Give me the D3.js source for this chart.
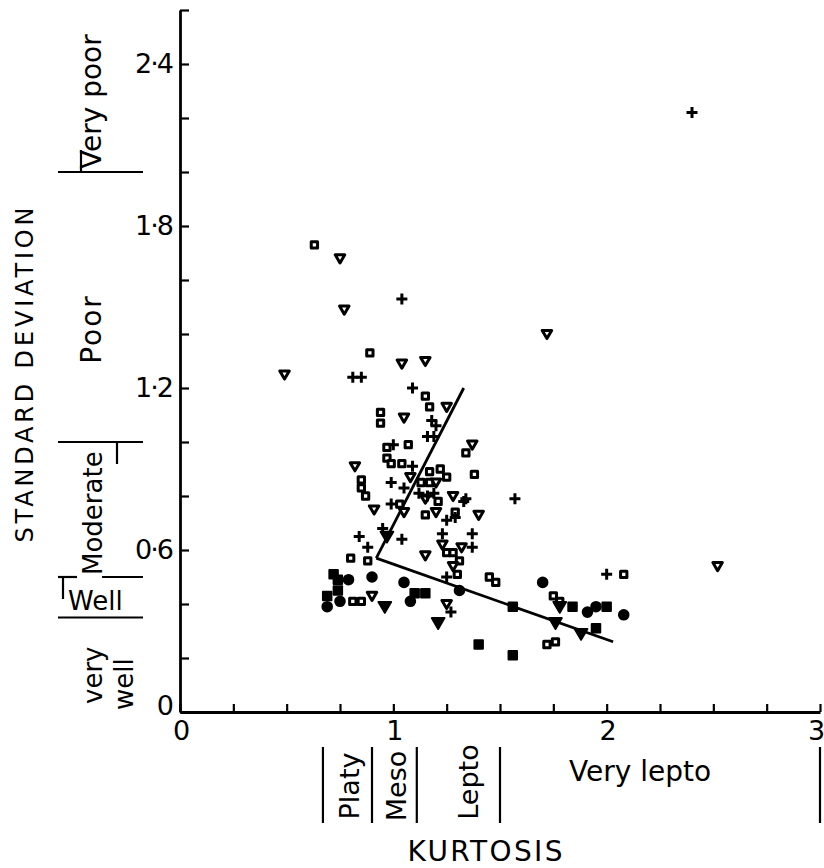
<!DOCTYPE html>
<html>
<head>
<meta charset="utf-8">
<script src="https://cdn.jsdelivr.net/npm/d3@7"></script>
<style>
  body { margin: 0; background: #fff; }
  svg text { font-family: "DejaVu Sans", "Liberation Sans", sans-serif; fill: #000; }
</style>
</head>
<body>
<div id="chart"></div>
<script>
// kurtosis (x), standard deviation (y)
const openSquares = [
  [0.63,1.73],[0.89,1.33],[1.15,1.17],[1.17,1.13],[0.94,1.11],[0.94,1.07],[1.07,0.99],
  [0.97,0.98],[0.97,0.94],[0.99,0.92],[1.04,0.92],[0.85,0.86],[0.85,0.83],[0.87,0.80],
  [1.17,0.89],[1.22,0.90],[1.25,0.87],[1.13,0.85],[1.17,0.85],[1.38,0.88],[1.34,0.96],
  [1.03,0.77],[1.21,0.78],[1.15,0.73],[1.29,0.74],[0.80,0.57],[0.88,0.56],[1.25,0.59],
  [1.28,0.59],[1.31,0.56],[1.30,0.51],[1.45,0.50],[1.48,0.48],[0.81,0.41],[0.85,0.41],
  [1.75,0.43],[1.78,0.41],[2.08,0.51],[1.72,0.25],[1.76,0.26]
]
const openTriangles = [
  [0.75,1.68],[0.77,1.49],[1.04,1.29],[1.15,1.30],[0.49,1.25],[1.72,1.40],[2.52,0.54],
  [1.25,1.13],[1.05,1.09],[1.37,0.99],[0.82,0.91],[1.08,0.87],[1.20,0.85],[1.28,0.80],
  [0.91,0.75],[1.05,0.74],[1.15,0.79],[1.20,0.74],[1.40,0.73],[1.23,0.62],[1.32,0.61],
  [1.15,0.58],[1.28,0.54],[0.90,0.43],[1.25,0.40]
]
const pluses = [
  [2.40,2.22],[1.04,1.53],[0.81,1.24],[0.85,1.24],[1.09,1.20],[1.18,1.08],[1.20,1.06],
  [1.16,1.02],[1.19,1.02],[1.00,0.99],[1.09,0.91],[0.99,0.85],[1.05,0.83],[1.12,0.81],
  [1.16,0.80],[1.19,0.81],[1.34,0.79],[1.57,0.79],[0.99,0.77],[1.33,0.78],[1.25,0.71],
  [1.29,0.72],[0.95,0.68],[1.04,0.64],[0.84,0.65],[0.88,0.61],[1.23,0.66],[1.37,0.66],
  [1.37,0.61],[1.25,0.50],[2.00,0.51],[1.27,0.37]
]
const filledCircles = [
  [1.31,0.45],[0.79,0.49],[0.90,0.50],[0.69,0.39],[0.75,0.41],[1.05,0.48],[1.08,0.41],
  [1.70,0.48],[1.91,0.37],[2.08,0.36],[1.95,0.39]
]
const filledSquares = [
  [0.72,0.51],[0.74,0.49],[0.74,0.45],[0.69,0.43],[1.10,0.44],[1.15,0.44],[1.40,0.25],
  [1.56,0.39],[1.84,0.39],[2.00,0.39],[1.95,0.31],[1.56,0.21]
]
const filledTriangles = [
  [0.97,0.65],[0.96,0.39],[1.21,0.33],[1.78,0.39],[1.76,0.33],[1.88,0.29]
]

// the two fitted lines, both from the kink
const trendUp = [[0.92,0.57],[1.33,1.20]]
const trendDown = [[0.92,0.57],[2.03,0.26]]

const xTicks = [0,0.25,0.5,0.75,1,1.25,1.5,1.75,2,2.25,2.5,2.75,3]
const xTickLabels = ["0","","","","1","","","","2","","","","3"]
const yTicks = [0,0.2,0.4,0.6,0.8,1.0,1.2,1.4,1.6,1.8,2.0,2.2,2.4,2.6]
const yTickLabels = ["0","","","0·6","","","1·2","","","1·8","","","2·4",""]

// Folk & Ward class limits
const sortingLimits = [2.0, 1.0, 0.5, 0.35]
const kurtLimits = [0.67, 0.90, 1.11, 1.50, 3.0]

const width = 824, height = 868

let svg = d3.select("#chart").append("svg")
  .attr("width", width)
  .attr("height", height)

let x = d3.scaleLinear().domain([0, 3]).range([180, 820])
let y = d3.scaleLinear().domain([0, 2.6]).range([712, 10])

// axes, ticks pointing into the plot
let yAxis = svg.append("g")
  .attr("transform", "translate(180,0)")
  .call(d3.axisLeft(y).tickValues(yTicks).tickSize(-9).tickSizeOuter(0)
    .tickPadding(8).tickFormat((d, i) => yTickLabels[i]))

let xAxis = svg.append("g")
  .attr("transform", "translate(0,712)")
  .call(d3.axisBottom(x).tickValues(xTicks).tickSize(-8).tickSizeOuter(0)
    .tickPadding(9).tickFormat((d, i) => xTickLabels[i]))

for (let ax of [xAxis, yAxis]) {
  ax.select(".domain").attr("stroke-width", 2.8)
  ax.selectAll(".tick line").attr("stroke-width", 2.2)
  ax.selectAll(".tick text")
    .attr("font-family", "DejaVu Sans, sans-serif")
    .style("font-size", "27px")
    .attr("letter-spacing", "-2px")
}
yAxis.select(".tick text").attr("dy", "0.1em")
// the "3" sits on the page edge, pull it in a little
xAxis.selectAll(".tick text").filter((d, i) => i === xTicks.length - 1).attr("dx", "-5")

// fitted lines
let line = d3.line().x(d => x(d[0])).y(d => y(d[1]))
for (let seg of [trendUp, trendDown]) {
  svg.append("path").attr("d", line(seg))
    .attr("fill", "none").attr("stroke", "#000").attr("stroke-width", 2.8)
}

// marker shapes
const triDown = {
  draw(ctx, size) {
    let s = Math.sqrt(size)
    ctx.moveTo(-s / 2, -s * 0.38)
    ctx.lineTo(s / 2, -s * 0.38)
    ctx.lineTo(0, s * 0.48)
    ctx.closePath()
  }
}
const plus = {
  draw(ctx, size) {
    let r = Math.sqrt(size) / 2
    ctx.moveTo(-r, 0); ctx.lineTo(r, 0)
    ctx.moveTo(0, -r); ctx.lineTo(0, r)
  }
}

let series = [
  {data: openSquares, type: d3.symbolSquare, size: 40, fill: "#fff", sw: 3},
  {data: openTriangles, type: triDown, size: 90, fill: "#fff", sw: 3},
  {data: pluses, type: plus, size: 121, fill: "none", sw: 3},
  {data: filledCircles, type: d3.symbolCircle, size: 72, fill: "#000", sw: 2},
  {data: filledSquares, type: d3.symbolSquare, size: 72, fill: "#000", sw: 2},
  {data: filledTriangles, type: triDown, size: 160, fill: "#000", sw: 2}
]

for (let s of series) {
  svg.append("g").selectAll("path")
    .data(s.data)
    .join("path")
    .attr("transform", d => "translate(" + x(d[0]) + "," + y(d[1]) + ")")
    .attr("d", d3.symbol().type(s.type).size(s.size))
    .attr("fill", s.fill)
    .attr("stroke", "#000")
    .attr("stroke-width", s.sw)
    .attr("stroke-linejoin", "round")
}

// sorting classes on the left
let left = svg.append("g").attr("stroke", "#000").attr("stroke-width", 2.2)
for (let b of sortingLimits) {
  if (b === 0.5) {
    left.append("line").attr("x1", 58).attr("x2", 77).attr("y1", y(b)).attr("y2", y(b))
    left.append("line").attr("x1", 102).attr("x2", 143).attr("y1", y(b)).attr("y2", y(b))
  } else {
    left.append("line").attr("x1", 58).attr("x2", 143).attr("y1", y(b)).attr("y2", y(b))
  }
}
left.append("line").attr("x1", 81).attr("x2", 81).attr("y1", y(2.0) - 22).attr("y2", y(2.0))
left.append("line").attr("x1", 117).attr("x2", 117).attr("y1", y(1.0)).attr("y2", y(1.0) + 22)
left.append("line").attr("x1", 63).attr("x2", 63).attr("y1", y(0.5)).attr("y2", y(0.5) + 22)

function vtext(txt, bx, cy, size, anchor) {
  return svg.append("text")
    .attr("transform", "translate(" + bx + "," + cy + ") rotate(-90)")
    .attr("text-anchor", anchor || "middle")
    .style("font-size", size + "px")
    .text(txt)
}

vtext("STANDARD DEVIATION", 33, 375, 24).attr("textLength", 335).attr("lengthAdjust", "spacing")
vtext("Very poor", 101, y(2.0) - 3, 28, "start")
vtext("Poor", 101, 329, 28).attr("letter-spacing", "2px")
vtext("Moderate", 102, y(0.5) - 2, 26, "start")
vtext("very", 102, 704, 26, "start")
vtext("well", 133, 710, 26, "start")
svg.append("text").attr("x", 68).attr("y", 610).style("font-size", "26px").text("Well")

// kurtosis classes under the axis
let bottom = svg.append("g").attr("stroke", "#000").attr("stroke-width", 2.2)
for (let b of kurtLimits) {
  bottom.append("line").attr("x1", x(b)).attr("x2", x(b)).attr("y1", 747).attr("y2", 823)
}
vtext("Platy", 359, 786, 27)
vtext("Meso", 406, 786, 27)
vtext("Lepto", 478, 782, 27)
svg.append("text").attr("x", 640).attr("y", 781).attr("text-anchor", "middle")
  .style("font-size", "28px").text("Very lepto")

svg.append("text").attr("x", 485).attr("y", 861).attr("text-anchor", "middle")
  .style("font-size", "28px").attr("textLength", 155).attr("lengthAdjust", "spacing")
  .text("KURTOSIS")
</script>
</body>
</html>
